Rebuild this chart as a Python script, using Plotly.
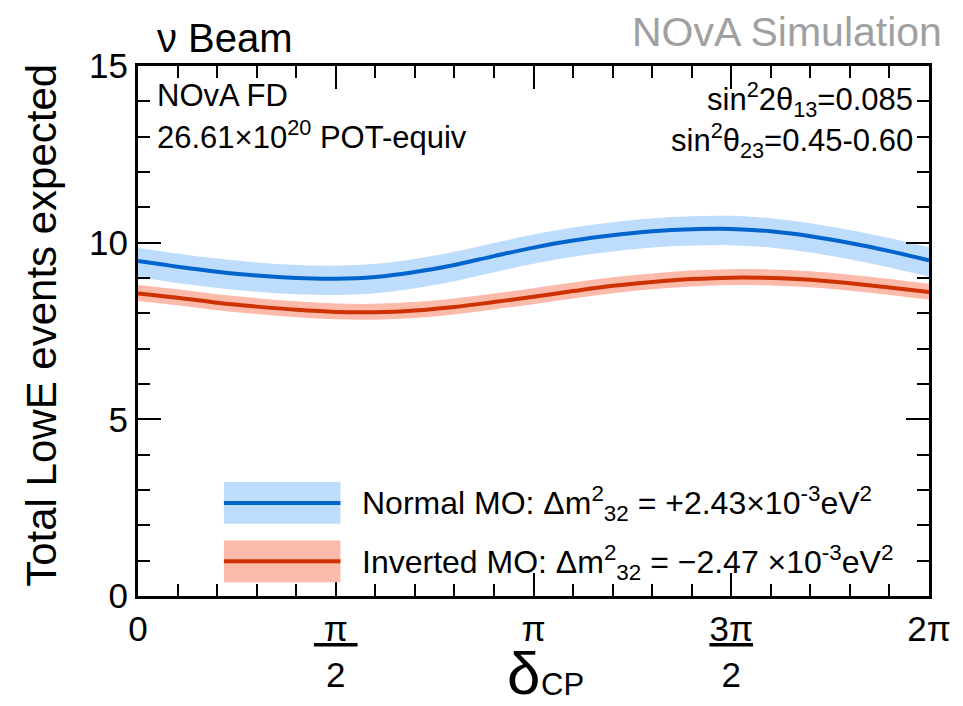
import plotly.graph_objects as go

# delta_CP in units of pi
delta_pi = [0.0, 0.1, 0.2, 0.3, 0.4, 0.5, 0.6, 0.7, 0.8, 0.9, 1.0,
            1.1, 1.2, 1.3, 1.4, 1.5, 1.6, 1.7, 1.8, 1.9, 2.0]

# Normal MO
nh_mid = [9.48, 9.32, 9.18, 9.07, 9.00, 8.98, 9.03, 9.17, 9.37, 9.62, 9.86,
          10.06, 10.21, 10.32, 10.38, 10.39, 10.32, 10.18, 9.99, 9.76, 9.50]
nh_hi = [9.85, 9.69, 9.55, 9.44, 9.37, 9.35, 9.40, 9.54, 9.74, 9.99, 10.23,
         10.43, 10.58, 10.69, 10.75, 10.76, 10.69, 10.55, 10.36, 10.13, 9.87]
nh_lo = [9.02, 8.86, 8.72, 8.61, 8.54, 8.52, 8.57, 8.71, 8.91, 9.16, 9.40,
         9.60, 9.75, 9.86, 9.92, 9.93, 9.86, 9.72, 9.53, 9.30, 9.04]

# Inverted MO
ih_mid = [8.56, 8.44, 8.30, 8.19, 8.10, 8.04, 8.03, 8.08, 8.18, 8.32, 8.47,
          8.63, 8.78, 8.89, 8.97, 9.01, 9.00, 8.95, 8.85, 8.73, 8.60]
ih_hi = [8.80, 8.68, 8.54, 8.43, 8.34, 8.28, 8.27, 8.32, 8.42, 8.56, 8.71,
         8.87, 9.02, 9.13, 9.21, 9.25, 9.24, 9.19, 9.09, 8.97, 8.84]
ih_lo = [8.35, 8.23, 8.09, 7.98, 7.89, 7.83, 7.82, 7.87, 7.97, 8.11, 8.26,
         8.42, 8.57, 8.68, 8.76, 8.80, 8.79, 8.74, 8.64, 8.52, 8.39]

x_tickvals = [0, 0.5, 1, 1.5, 2]
x_ticktext = ["0", "<u>&nbsp;π&nbsp;</u><br>2", "π", "<u>3π</u><br>2", "2π"]
y_tickvals = [0, 5, 10, 15]

BLUE = "rgb(0,100,205)"
BLUE_BAND = "rgb(190,220,252)"
RED = "rgb(205,50,0)"
RED_BAND = "rgb(252,186,170)"
FONT = "Liberation Sans, Arial, sans-serif"

fig = go.Figure()

for lo, hi, mid, band, col in [(nh_lo, nh_hi, nh_mid, BLUE_BAND, BLUE),
                               (ih_lo, ih_hi, ih_mid, RED_BAND, RED)]:
    fig.add_trace(go.Scatter(x=delta_pi, y=lo, mode="lines", line=dict(width=0, shape="spline"),
                             showlegend=False, hoverinfo="skip"))
    fig.add_trace(go.Scatter(x=delta_pi, y=hi, mode="lines", line=dict(width=0, shape="spline"),
                             fill="tonexty", fillcolor=band, showlegend=False, hoverinfo="skip"))
    fig.add_trace(go.Scatter(x=delta_pi, y=mid, mode="lines",
                             line=dict(color=col, width=4, shape="spline"), showlegend=False))

axis_common = dict(
    showline=True, linecolor="black", linewidth=3, mirror="ticks",
    ticks="inside", ticklen=23, tickwidth=2, tickcolor="black",
    showgrid=False, zeroline=False,
    tickfont=dict(family=FONT, size=35, color="black"),
)

fig.update_xaxes(range=[0, 2], tickmode="array", tickvals=x_tickvals, ticktext=x_ticktext,
                 minor=dict(dtick=0.1, tick0=0, ticks="inside", ticklen=12, tickwidth=2,
                            tickcolor="black", showgrid=False),
                 **axis_common)
fig.update_yaxes(range=[0, 15], tickmode="array", tickvals=y_tickvals,
                 minor=dict(dtick=1, tick0=0, ticks="inside", ticklen=12, tickwidth=2,
                            tickcolor="black", showgrid=False),
                 **axis_common)

W, H = 963, 706
L, R, T, B = 138, 24, 66, 105
PW, PH = W - L - R, H - T - B


def px(xp):
    return (xp - L) / PW


def py(yp):
    return (H - B - yp) / PH


ann = []


def text(s, x, y, size, xanchor="left", yanchor="middle", color="black", angle=0):
    ann.append(dict(text=s, x=px(x), y=py(y), xref="paper", yref="paper",
                    xanchor=xanchor, yanchor=yanchor, showarrow=False, textangle=angle,
                    borderpad=0, font=dict(family=FONT, size=size, color=color)))


text("ν Beam", 156, 38, 40)
text("NOvA Simulation", 953, 32, 41, xanchor="right", color="rgb(160,160,160)")
text("NOvA FD", 156, 96, 31)
text("26.61×10<sup>20</sup> POT-equiv", 156, 136, 31)
text("sin<sup>2</sup>2θ<sub>13</sub>=0.085", 924, 100, 31, xanchor="right")
text("sin<sup>2</sup>θ<sub>23</sub>=0.45-0.60", 924, 141, 31, xanchor="right")
text("Total LowE events expected", 40, 328, 42, xanchor="center", angle=-90)
text("δ", 546, 679, 60, xanchor="right")
text("CP", 545, 690, 31, xanchor="left")
text("Normal MO: Δm<sup>2</sup><sub>32</sub> = +2.43×10<sup>-3</sup>eV<sup>2</sup>", 364, 508, 32)
text("Inverted MO: Δm<sup>2</sup><sub>32</sub> = −2.47 ×10<sup>-3</sup>eV<sup>2</sup>", 364, 567, 32)

shapes = []
for yc, band, col in [(507, BLUE_BAND, BLUE), (566, RED_BAND, RED)]:
    shapes.append(dict(type="rect", xref="paper", yref="paper",
                       x0=px(225), x1=px(343), y0=py(yc - 21), y1=py(yc + 21),
                       fillcolor=band, line=dict(width=0), layer="above"))
    shapes.append(dict(type="line", xref="paper", yref="paper",
                       x0=px(225), x1=px(343), y0=py(yc), y1=py(yc),
                       line=dict(color=col, width=4), layer="above"))

fig.update_layout(
    width=W, height=H,
    margin=dict(l=L, r=R, t=T, b=B),
    paper_bgcolor="white", plot_bgcolor="white",
    font=dict(family=FONT, color="black"),
    annotations=ann, shapes=shapes, showlegend=False,
)

fig.write_html("out.html")
